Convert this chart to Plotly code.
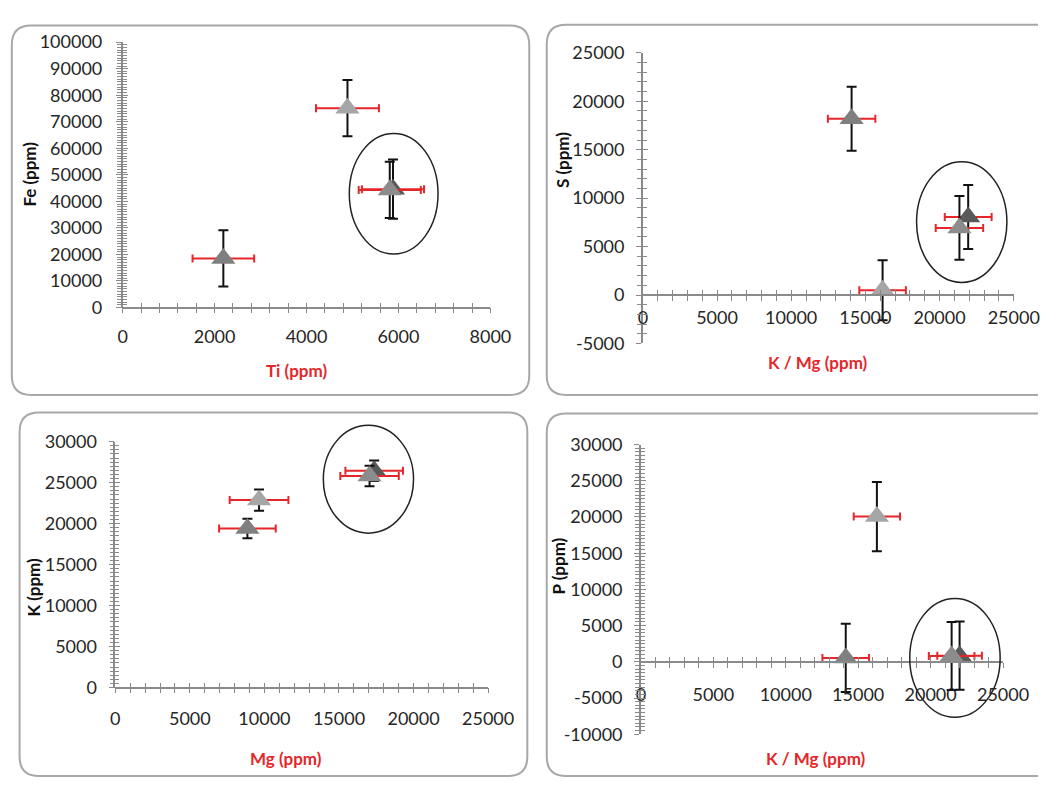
import plotly.graph_objects as go

W, H = 1064, 787

# Four samples; the last two form the circled group in every panel
sample_colors = ["#a6a6a6", "#7f7f7f", "#595959", "#8c8c8c"]

# Panel a: Fe vs Ti
ti = [4890, 2190, 5880, 5810]
ti_err = [685, 670, 676, 676]
fe = [75100, 18500, 44600, 44300]
fe_err = [10600, 10600, 11200, 10600]
ti_ticks = [0, 2000, 4000, 6000, 8000]
fe_ticks = [0, 10000, 20000, 30000, 40000, 50000, 60000, 70000, 80000, 90000, 100000]

# Panel b: S vs K / Mg
kmg_b = [16160, 14070, 21930, 21340]
kmg_b_err = [1570, 1600, 1580, 1600]
s = [500, 18200, 8050, 6930]
s_err = [3100, 3300, 3300, 3300]
kmg_b_ticks = [0, 5000, 10000, 15000, 20000, 25000]
s_ticks = [-5000, 0, 5000, 10000, 15000, 20000, 25000]

# Panel c: K vs Mg
mg = [9640, 8860, 17360, 17050]
mg_err = [1970, 1900, 1930, 1960]
k = [22870, 19400, 26450, 25800]
k_err = [1300, 1200, 1250, 1250]
mg_ticks = [0, 5000, 10000, 15000, 20000, 25000]
k_ticks = [0, 5000, 10000, 15000, 20000, 25000, 30000]

# Panel d: P vs K / Mg
kmg_d = [16290, 14140, 22000, 21450]
kmg_d_err = [1600, 1610, 1540, 1575]
p = [20050, 540, 850, 800]
p_err = [4780, 4700, 4700, 4700]
kmg_d_ticks = [0, 5000, 10000, 15000, 20000, 25000]
p_ticks = [-10000, -5000, 0, 5000, 10000, 15000, 20000, 25000, 30000]

# Group outlines (data units: x0, x1, y0, y1)
group_a = (4930, 6860, 20150, 65570)
group_b = (18450, 24540, 1300, 13760)
group_c = (13950, 20000, 18840, 31990)
group_d = (18560, 24800, -7660, 8740)

AXIS_GREY = "#8a8a8a"
RED = "#e5262a"
TEXT = "#262626"
FONT = "Lato"


def px(x):
    return x / W


def py(y):
    return 1 - y / H


def ax_id(letter, n):
    return letter if n == 1 else f"{letter}{n}"


def ax_key(letter, n):
    return f"{letter}axis" if n == 1 else f"{letter}axis{n}"


def frame_path(x0, y0, x1, y1, r=20, open_right=False):
    """Rounded panel border in paper units; right side left open when cut by the page edge."""
    left = (f"L {px(x0 + r)},{py(y1)} Q {px(x0)},{py(y1)} {px(x0)},{py(y1 - r)} "
            f"L {px(x0)},{py(y0 + r)} Q {px(x0)},{py(y0)} {px(x0 + r)},{py(y0)} ")
    if open_right:
        return (f"M {px(x1)},{py(y1)} " + left + f"L {px(x1)},{py(y0)}")
    return (f"M {px(x0 + r)},{py(y0)} L {px(x1 - r)},{py(y0)} "
            f"Q {px(x1)},{py(y0)} {px(x1)},{py(y0 + r)} "
            f"L {px(x1)},{py(y1 - r)} Q {px(x1)},{py(y1)} {px(x1 - r)},{py(y1)} "
            + left + "Z")


panels = [
    dict(x=ti, xe=ti_err, y=fe, ye=fe_err, xr=[0, 8000], yr=[0, 100000],
         xt_vals=ti_ticks, yt_vals=fe_ticks, xm=400, ym=1000,
         xdom=(121.2, 500), ydom=(304, 31), group=group_a,
         xtitle="Ti (ppm)", xt=(300, 369), ytitle="Fe (ppm)", yt=(25, 167),
         frame=(7, 14, 540, 394), open_right=False, xstand=8, ystand=10),
    dict(x=kmg_b, xe=kmg_b_err, y=s, ye=s_err, xr=[0, 25000], yr=[-5000, 25000],
         xt_vals=kmg_b_ticks, yt_vals=s_ticks, xm=1000, ym=1000,
         xdom=(657, 1039), ydom=(341, 42), group=group_b,
         xtitle="K / Mg (ppm)", xt=(837, 361), ytitle="S (ppm)", yt=(574, 152),
         frame=(558, 13, 1064, 394), open_right=True, xstand=2, ystand=8),
    dict(x=mg, xe=mg_err, y=k, ye=k_err, xr=[0, 25000], yr=[0, 30000],
         xt_vals=mg_ticks, yt_vals=k_ticks, xm=1000, ym=500,
         xdom=(113.6, 497.6), ydom=(695, 442), group=group_c,
         xtitle="Mg (ppm)", xt=(289, 768), ytitle="K (ppm)", yt=(29, 592),
         frame=(15, 412, 538, 786), open_right=False, xstand=10, ystand=8),
    dict(x=kmg_d, xe=kmg_d_err, y=p, ye=p_err, xr=[0, 25000], yr=[-10000, 30000],
         xt_vals=kmg_d_ticks, yt_vals=p_ticks, xm=1000, ym=500,
         xdom=(655, 1028), ydom=(743, 445), group=group_d,
         xtitle="K / Mg (ppm)", xt=(835, 768), ytitle="P (ppm)", yt=(570, 570),
         frame=(558, 413, 1064, 786), open_right=True, xstand=12, ystand=8),
]

fig = go.Figure()
layout_axes = {}
shapes = []
annotations = []

for i, pnl in enumerate(panels, start=1):
    xa, ya = ax_id("x", i), ax_id("y", i)
    xo, yo = ax_id("x", i + 4), ax_id("y", i + 4)
    xdom = [px(pnl["xdom"][0]), px(pnl["xdom"][1])]
    ydom = [py(pnl["ydom"][0]), py(pnl["ydom"][1])]

    # x axis crosses the y axis at zero
    y0, y1 = pnl["yr"]
    xpos = ydom[0] + (0 - y0) / (y1 - y0) * (ydom[1] - ydom[0])

    xticks = dict(tickmode="array", tickvals=pnl["xt_vals"],
                  ticktext=[str(v) for v in pnl["xt_vals"]])
    yticks = dict(tickmode="array", tickvals=pnl["yt_vals"],
                  ticktext=[str(v) for v in pnl["yt_vals"]])

    base = dict(showgrid=False, zeroline=False, ticklen=5,
                tickwidth=1, tickcolor=AXIS_GREY)
    layout_axes[ax_key("x", i)] = dict(
        base, **xticks, domain=xdom, range=pnl["xr"], ticks="outside",
        anchor="free", position=xpos, showline=True, linecolor=AXIS_GREY,
        linewidth=1.5, tickfont=dict(family=FONT, size=18, color=TEXT),
        ticklabelstandoff=pnl["xstand"],
        minor=dict(tickmode="linear", tick0=0, dtick=pnl["xm"], ticks="outside",
                   ticklen=5, tickcolor=AXIS_GREY, tickwidth=1))
    layout_axes[ax_key("y", i)] = dict(
        base, **yticks, domain=ydom, range=pnl["yr"], ticks="outside",
        anchor=xa, showline=True, linecolor=AXIS_GREY, linewidth=1.5,
        tickfont=dict(family=FONT, size=18, color=TEXT),
        ticklabelstandoff=pnl["ystand"],
        minor=dict(tickmode="linear", tick0=0, dtick=pnl["ym"], ticks="outside",
                   ticklen=4, tickcolor=AXIS_GREY, tickwidth=1))
    # companion axes carrying the inner half of the cross tick marks
    layout_axes[ax_key("x", i + 4)] = dict(
        base, **xticks, domain=xdom, range=pnl["xr"],
        overlaying=xa, anchor="free", position=xpos, ticks="inside",
        showticklabels=False, showline=False,
        minor=dict(tickmode="linear", tick0=0, dtick=pnl["xm"], ticks="inside",
                   ticklen=5, tickcolor=AXIS_GREY, tickwidth=1))
    layout_axes[ax_key("y", i + 4)] = dict(
        base, **yticks, domain=ydom, range=pnl["yr"],
        overlaying=ya, anchor=xo, ticks="inside", showticklabels=False,
        showline=False,
        minor=dict(tickmode="linear", tick0=0, dtick=pnl["ym"], ticks="inside",
                   ticklen=4, tickcolor=AXIS_GREY, tickwidth=1))
    fig.add_trace(go.Scatter(x=[None], y=[None], xaxis=xo, yaxis=yo,
                             showlegend=False, hoverinfo="skip"))

    for j in range(len(pnl["x"])):
        fig.add_trace(go.Scatter(
            x=[pnl["x"][j]], y=[pnl["y"][j]], xaxis=xa, yaxis=ya,
            mode="markers", showlegend=False,
            marker=dict(symbol="triangle-up", size=21, color=sample_colors[j],
                        line=dict(width=0)),
            error_x=dict(type="data", array=[pnl["xe"][j]], color=RED,
                         thickness=2, width=4),
            error_y=dict(type="data", array=[pnl["ye"][j]], color="#111111",
                         thickness=2, width=5),
        ))

    # outline around the grouped samples
    gx0, gx1, gy0, gy1 = pnl["group"]
    xr0, xr1 = pnl["xr"]
    shapes.append(dict(
        type="circle", xref=f"{xa} domain", yref=f"{ya} domain",
        x0=(gx0 - xr0) / (xr1 - xr0), x1=(gx1 - xr0) / (xr1 - xr0),
        y0=(gy0 - y0) / (y1 - y0), y1=(gy1 - y0) / (y1 - y0),
        line=dict(color="#222222", width=1.5)))

    # rounded panel frame
    shapes.append(dict(type="path", xref="paper", yref="paper",
                       path=frame_path(*pnl["frame"], open_right=pnl["open_right"]),
                       line=dict(color="#a8a8a8", width=2), layer="below"))

    annotations.append(dict(
        text=f"<b>{pnl['xtitle']}</b>", xref="paper", yref="paper",
        x=px(pnl["xt"][0]), y=py(pnl["xt"][1]), showarrow=False,
        xanchor="center", yanchor="middle",
        font=dict(family=FONT, size=17, color=RED)))
    annotations.append(dict(
        text=f"<b>{pnl['ytitle']}</b>", xref="paper", yref="paper",
        x=px(pnl["yt"][0]), y=py(pnl["yt"][1]), showarrow=False, textangle=-90,
        xanchor="center", yanchor="middle",
        font=dict(family=FONT, size=17, color="#111111")))

fig.update_layout(
    width=W, height=H, margin=dict(l=0, r=0, t=0, b=0),
    paper_bgcolor="white", plot_bgcolor="rgba(0,0,0,0)",
    shapes=shapes, annotations=annotations, showlegend=False,
    **layout_axes,
)

fig.write_html("out.html")
